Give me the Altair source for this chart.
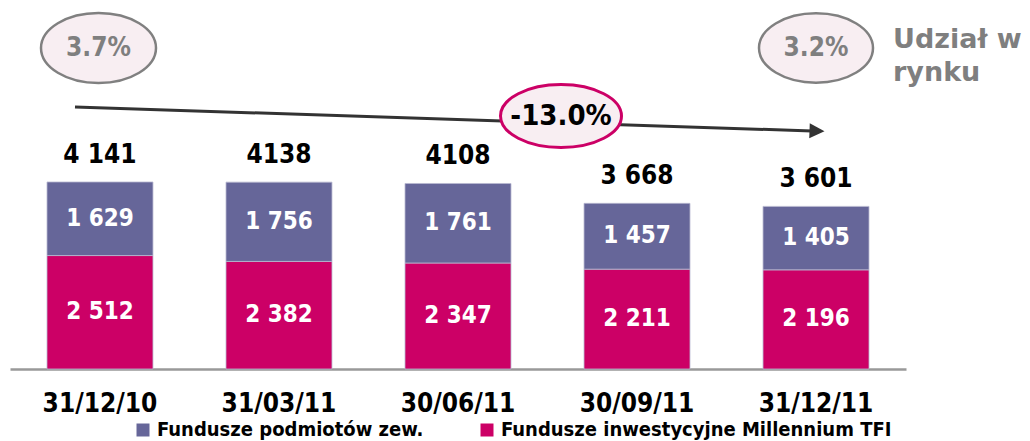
import altair as alt
import pandas as pd

# ---- data ----
categories = ["31/12/10", "31/03/11", "30/06/11", "30/09/11", "31/12/11"]
millennium = [2512, 2382, 2347, 2211, 2196]
external = [1629, 1756, 1761, 1457, 1405]
millennium_labels = ["2 512", "2 382", "2 347", "2 211", "2 196"]
external_labels = ["1 629", "1 756", "1 761", "1 457", "1 405"]
total_labels = ["4 141", "4138", "4108", "3 668", "3 601"]
series_names = ["Fundusze podmiotów zew.", "Fundusze inwestycyjne Millennium TFI"]
series_colors = ["#666699", "#CC0066"]
share_labels = ["3.7%", "3.2%"]
change_label = ["-13.0%"]
share_title = ["Udział w", "rynku"]

FONT = "DejaVu Sans Condensed, DejaVu Sans"
FONT_WIDE = "DejaVu Sans"

rows = []
for i, c in enumerate(categories):
    rows.append({"cat": c, "series": series_names[1], "value": millennium[i],
                 "label": millennium_labels[i], "ord": 0})
    rows.append({"cat": c, "series": series_names[0], "value": external[i],
                 "label": external_labels[i], "ord": 1})
df = pd.DataFrame(rows)
tot = pd.DataFrame({"cat": categories,
                    "total": [m + e for m, e in zip(millennium, external)],
                    "tlabel": total_labels})

xscale = alt.Scale(domain=categories, range=[2, 898], paddingInner=0.408, paddingOuter=0.2067)
yscale = alt.Scale(domain=[0, 7994], nice=False, zero=True)

xenc = alt.X("cat:N", sort=categories, scale=xscale,
             axis=alt.Axis(title=None, ticks=False, tickSize=0, domainColor="#999999",
                           domainWidth=2.5, labelFont=FONT, labelFontSize=26,
                           labelFontWeight="bold", labelColor="#000000",
                           labelPadding=21, labelAngle=0, grid=False))

base = alt.Chart(df).transform_stack(
    stack="value", groupby=["cat"], as_=["y0", "y1"], sort=[alt.SortField("ord")]
).transform_calculate(mid="(datum.y0 + datum.y1) / 2")

bars = base.mark_bar(stroke="#b9b9d0", strokeWidth=0.8).encode(
    x=xenc,
    y=alt.Y("y0:Q", scale=yscale, axis=None),
    y2="y1:Q",
    color=alt.Color("series:N",
                    scale=alt.Scale(domain=series_names, range=series_colors),
                    legend=alt.Legend(title=None, orient="none", legendX=125, legendY=412,
                                      direction="horizontal", symbolType="square",
                                      symbolSize=169, symbolStrokeWidth=0,
                                      labelFont=FONT, labelFontSize=20,
                                      labelFontWeight="bold", labelColor="#000000",
                                      labelLimit=800, labelOffset=4, columnPadding=53,
                                      padding=0)),
)

inner = base.mark_text(color="white", font=FONT, fontSize=24, fontWeight="bold",
                       baseline="middle").encode(
    x=alt.X("cat:N", sort=categories, scale=xscale),
    y=alt.Y("mid:Q", scale=yscale),
    text="label:N",
)

totals = alt.Chart(tot).mark_text(color="black", font=FONT, fontSize=26,
                                  fontWeight="bold", baseline="alphabetic", dy=-19).encode(
    x=alt.X("cat:N", sort=categories, scale=xscale),
    y=alt.Y("total:Q", scale=yscale),
    text="tlabel:N",
)

ELL_A = "M -1 0 A 1 0.609 0 1 1 1 0 A 1 0.609 0 1 1 -1 0 Z"
ELL_B = "M -1 0 A 1 0.52 0 1 1 1 0 A 1 0.52 0 1 1 -1 0 Z"
TRI = "M -1 -1 L 1 0 L -1 1 Z"

share_df = pd.DataFrame({"t": share_labels})
change_df = pd.DataFrame({"t": change_label})
title_df = pd.DataFrame({"t": [share_title[0]]})

arrow_line = alt.Chart(change_df).mark_rule(color="#333333", strokeWidth=3).encode(
    x=alt.value(67), y=alt.value(99), x2=alt.value(804), y2=alt.value(123))
arrow_head = alt.Chart(change_df).mark_point(
    shape=TRI, size=225, filled=True, fill="#333333", strokeWidth=0, opacity=1, angle=2
).encode(x=alt.value(809), y=alt.value(123))

def ellipse(x, y, w, path, stroke, sw):
    return alt.Chart(change_df).mark_point(
        shape=path, size=w * w, filled=True, fill="#F8EEF2", stroke=stroke,
        strokeWidth=sw, opacity=1, fillOpacity=1, strokeOpacity=1
    ).encode(x=alt.value(x), y=alt.value(y))

e1 = ellipse(90.5, 40, 115, ELL_A, "#808080", 2.5)
e2 = ellipse(808, 40, 114, ELL_A, "#808080", 2.5)
e3 = ellipse(553, 108, 121, ELL_B, "#CC0066", 3)

t1 = alt.Chart(share_df.iloc[[0]]).mark_text(
    font=FONT, fontSize=26, fontWeight="bold", color="#7F7F7F", baseline="middle"
).encode(x=alt.value(90.5), y=alt.value(40), text="t:N")
t2 = alt.Chart(share_df.iloc[[1]]).mark_text(
    font=FONT, fontSize=26, fontWeight="bold", color="#7F7F7F", baseline="middle"
).encode(x=alt.value(808), y=alt.value(40), text="t:N")
t3 = alt.Chart(change_df).mark_text(
    font=FONT, fontSize=29, fontWeight="bold", color="#000000", baseline="middle"
).encode(x=alt.value(553), y=alt.value(108), text="t:N")

title_text = alt.Chart(title_df).mark_text(
    font=FONT_WIDE, fontSize=27, fontWeight="bold", color="#7F7F7F", align="left",
    baseline="middle", lineHeight=33, text=share_title
).encode(x=alt.value(885), y=alt.value(32))

chart = alt.layer(
    bars, inner, totals, arrow_line, arrow_head, e1, e2, e3, t1, t2, t3, title_text
).properties(
    width=1014, height=361,
    autosize=alt.AutoSizeParams(type="none"),
    padding={"left": 0, "top": 0, "right": 0, "bottom": 73},
    background="white",
).configure_view(stroke=None)

chart.save("out.html", embed_options={"renderer": "svg", "actions": False})
